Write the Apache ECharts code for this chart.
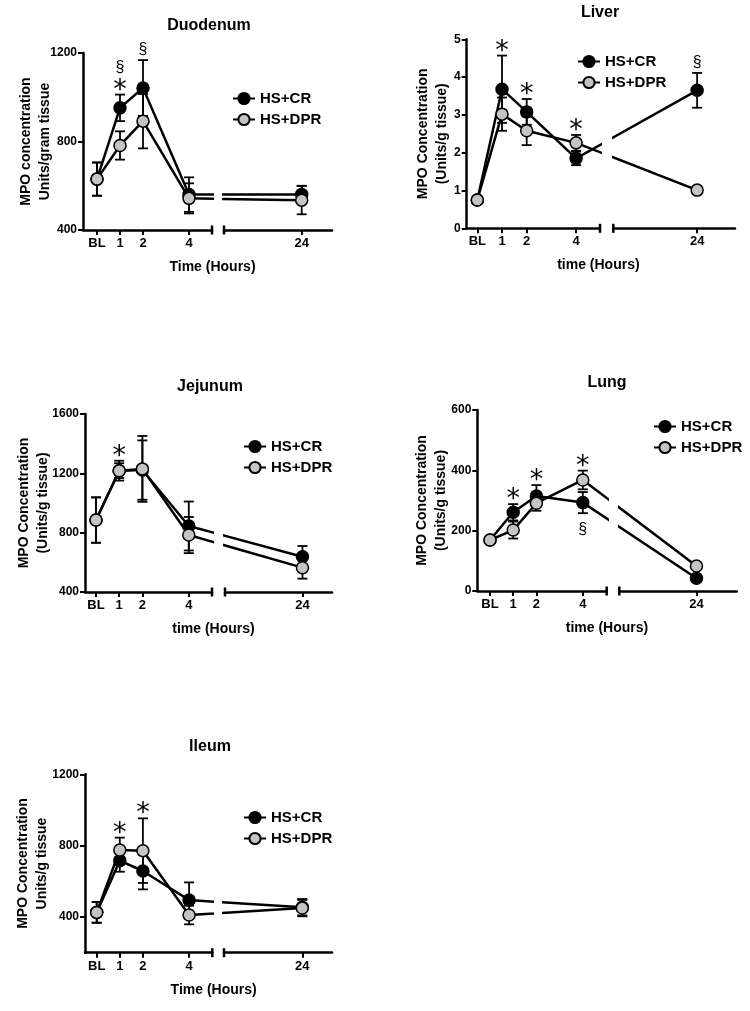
<!DOCTYPE html>
<html>
<head>
<meta charset="utf-8">
<script src="https://cdn.jsdelivr.net/npm/echarts@6/dist/echarts.min.js"></script>
<style>
  html, body { margin: 0; padding: 0; background: #fff; }
  #chart { width: 750px; height: 1011px; }
</style>
</head>
<body>
<div id="chart"></div>
<script>
// ---------------- DATA ----------------
const timeLabels = ['BL', '1', '2', '4', '24'];
const timePos = [0, 1, 2, 4, 8.9];          // axis position of each time point (broken axis)
const seriesNames = ['HS+CR', 'HS+DPR'];

// Duodenum
const duodenumCR = [630, 952, 1042, 560, 561];
const duodenumCRerr = [75, 60, 126, 78, 39];
const duodenumDPR = [630, 782, 892, 543, 535];
const duodenumDPRerr = [75, 64, 123, 68, 64];
const duodenumYTicks = [400, 800, 1200];
const duodenumNotes = [['1', 'CR', '*', 0], ['1', 'CR', '§', 1], ['2', 'CR', '§', 0]];

// Liver
const liverCR = [0.75, 3.68, 3.08, 1.85, 3.65];
const liverCRerr = [0.05, 0.89, 0.34, 0.18, 0.46];
const liverDPR = [0.75, 3.02, 2.58, 2.26, 1.01];
const liverDPRerr = [0.05, 0.44, 0.38, 0.21, 0.05];
const liverYTicks = [0, 1, 2, 3, 4, 5];
const liverNotes = [['1', 'CR', '*', 0], ['2', 'CR', '*', 0], ['4', 'DPR', '*', 0], ['24', 'CR', '§', 0]];

// Jejunum
const jejunumCR = [885, 1218, 1222, 845, 638];
const jejunumCRerr = [153, 67, 200, 165, 72];
const jejunumDPR = [885, 1218, 1230, 784, 564];
const jejunumDPRerr = [153, 50, 222, 122, 74];
const jejunumYTicks = [400, 800, 1200, 1600];
const jejunumNotes = [['1', 'CR', '*', 0]];

// Lung
const lungCR = [169, 261, 315, 293, 42];
const lungCRerr = [8, 27, 36, 35, 8];
const lungDPR = [169, 202, 291, 368, 83];
const lungDPRerr = [8, 28, 25, 31, 8];
const lungYTicks = [0, 200, 400, 600];
const lungNotes = [['1', 'CR', '*', 0], ['2', 'CR', '*', 0], ['4', 'DPR', '*', 0], ['4', 'CR', '§', -1]];

// Ileum
const ileumCR = [426, 716, 658, 495, 455];
const ileumCRerr = [58, 62, 103, 99, 46];
const ileumDPR = [426, 776, 772, 411, 450];
const ileumDPRerr = [58, 69, 181, 52, 46];
const ileumYTicks = [400, 800, 1200];
const ileumNotes = [['1', 'DPR', '*', 0], ['2', 'DPR', '*', 0]];

// ---------------- LAYOUT ----------------
const FONT = '"Liberation Sans", Arial, Helvetica, sans-serif';
const panels = [
  { title: 'Duodenum', yName: 'MPO concentration\nUnits/gram tissue', xName: 'Time (Hours)',
    cr: duodenumCR, crErr: duodenumCRerr, dpr: duodenumDPR, dprErr: duodenumDPRerr,
    yTicks: duodenumYTicks, yMin: 400, yMax: 1200, notes: duodenumNotes,
    L: { yAxisX: 83, top: 53, bottom: 230, bl: 97, k: 23, breakL: 212, breakR: 224, end: 332,
         titleX: 209, titleY: 27, legendX: 232, legendY: 91, yNameGap: 28 } },
  { title: 'Liver', yName: 'MPO Concentration\n(Units/g tissue)', xName: 'time (Hours)',
    cr: liverCR, crErr: liverCRerr, dpr: liverDPR, dprErr: liverDPRerr,
    yTicks: liverYTicks, yMin: 0, yMax: 5, notes: liverNotes,
    L: { yAxisX: 466.7, top: 39.3, bottom: 228.3, bl: 477.3, k: 24.7, breakL: 600, breakR: 613.3, end: 735,
         titleX: 600, titleY: 14, legendX: 577, legendY: 54, yNameGap: 15 } },
  { title: 'Jejunum', yName: 'MPO Concentration\n(Units/g tissue)', xName: 'time (Hours)',
    cr: jejunumCR, crErr: jejunumCRerr, dpr: jejunumDPR, dprErr: jejunumDPRerr,
    yTicks: jejunumYTicks, yMin: 400, yMax: 1600, notes: jejunumNotes,
    L: { yAxisX: 85, top: 414, bottom: 592, bl: 96, k: 23.2, breakL: 212, breakR: 225, end: 332,
         titleX: 210, titleY: 388, legendX: 243, legendY: 439, yNameGap: 32 } },
  { title: 'Lung', yName: 'MPO Concentration\n(Units/g tissue)', xName: 'time (Hours)',
    cr: lungCR, crErr: lungCRerr, dpr: lungDPR, dprErr: lungDPRerr,
    yTicks: lungYTicks, yMin: 0, yMax: 600, notes: lungNotes,
    L: { yAxisX: 477.3, top: 410, bottom: 591, bl: 490, k: 23.2, breakL: 606.7, breakR: 619.3, end: 736.7,
         titleX: 607, titleY: 384, legendX: 653, legendY: 419, yNameGap: 27 } },
  { title: 'Ileum', yName: 'MPO Concentration\nUnits/g tissue', xName: 'Time (Hours)',
    cr: ileumCR, crErr: ileumCRerr, dpr: ileumDPR, dprErr: ileumDPRerr,
    yTicks: ileumYTicks, yMin: 200, yMax: 1200, notes: ileumNotes,
    L: { yAxisX: 85, top: 774.3, bottom: 952.7, bl: 96.7, k: 23.1, breakL: 212.3, breakR: 224, end: 332,
         titleX: 210, titleY: 748, legendX: 243, legendY: 810, yNameGap: 33 } }
];

// ---------------- BUILD ----------------
const grid = [], xAxis = [], yAxis = [], series = [], legend = [], title = [];
const black = '#000';
const gray = '#c4c4c4';

function labelFor(v) {
  for (let i = 0; i < timePos.length; i++) if (Math.abs(timePos[i] - v) < 1e-6) return timeLabels[i];
  return '';
}

function errRender(params, api) {
  const x = api.value(0), m = api.value(1), s = api.value(2);
  const t = api.coord([x, m + s]);
  const b = api.coord([x, m - s]);
  const hw = 5;
  const st = { stroke: black, lineWidth: 1.8 };
  return { type: 'group', children: [
    { type: 'line', shape: { x1: t[0], y1: t[1], x2: b[0], y2: b[1] }, style: st },
    { type: 'line', shape: { x1: t[0] - hw, y1: t[1], x2: t[0] + hw, y2: t[1] }, style: st },
    { type: 'line', shape: { x1: b[0] - hw, y1: b[1], x2: b[0] + hw, y2: b[1] }, style: st }
  ]};
}

panels.forEach((P, pi) => {
  const L = P.L;
  const gL = pi * 2, gR = pi * 2 + 1;
  const h = L.bottom - L.top;
  const leftMin = (L.yAxisX - L.bl) / L.k, leftMax = (L.breakL - L.bl) / L.k;
  const rightMin = (L.breakR - L.bl) / L.k, rightMax = (L.end - L.bl) / L.k;

  grid.push({ left: L.yAxisX, top: L.top, width: L.breakL - L.yAxisX, height: h, containLabel: false, outerBoundsMode: 'none' });
  grid.push({ left: L.breakR, top: L.top, width: L.end - L.breakR, height: h, containLabel: false, outerBoundsMode: 'none' });

  const leftTicks = timePos.filter(v => v >= leftMin && v <= leftMax);
  const rightTicks = timePos.filter(v => v >= rightMin && v <= rightMax);
  const axisLineStyle = { color: black, width: 2.5 };
  const labelStyle = { color: black, fontWeight: 'bold', fontSize: 13, fontFamily: FONT, margin: 7 };

  xAxis.push({
    gridIndex: gL, type: 'value', min: leftMin, max: leftMax,
    axisLine: { show: true, onZero: false, lineStyle: axisLineStyle, symbol: ['none', 'rect'], symbolSize: [9, 2.5] },
    axisTick: { show: true, customValues: leftTicks, length: 5, lineStyle: { color: black, width: 2 } },
    axisLabel: Object.assign({ customValues: leftTicks, formatter: labelFor }, labelStyle),
    splitLine: { show: false },
    name: P.xName, nameLocation: 'middle', nameGap: 30, nameMoveOverlap: false,
    nameTextStyle: { color: black, fontWeight: 'bold', fontSize: 14, fontFamily: FONT, padding: [0, 0, 0, 130] }
  });
  xAxis.push({
    gridIndex: gR, type: 'value', min: rightMin, max: rightMax,
    axisLine: { show: true, onZero: false, lineStyle: axisLineStyle, symbol: ['rect', 'none'], symbolSize: [9, 2.5] },
    axisTick: { show: true, customValues: rightTicks, length: 5, lineStyle: { color: black, width: 2 } },
    axisLabel: Object.assign({ customValues: rightTicks, formatter: labelFor }, labelStyle),
    splitLine: { show: false }
  });
  yAxis.push({
    gridIndex: gL, type: 'value', min: P.yMin, max: P.yMax,
    axisLine: { show: true, onZero: false, lineStyle: axisLineStyle },
    axisTick: { show: true, customValues: P.yTicks, length: 5, lineStyle: { color: black, width: 2 } },
    axisLabel: { customValues: P.yTicks, formatter: v => String(v), color: black, fontWeight: 'bold', fontSize: 12, fontFamily: FONT, margin: 6 },
    splitLine: { show: false },
    name: P.yName, nameLocation: 'middle', nameGap: L.yNameGap, nameRotate: 90, nameMoveOverlap: false,
    nameTextStyle: { color: black, fontWeight: 'bold', fontSize: 14, lineHeight: 19, fontFamily: FONT, align: 'center' }
  });
  yAxis.push({ gridIndex: gR, type: 'value', min: P.yMin, max: P.yMax, show: false });

  const groups = [
    { name: seriesNames[0], vals: P.cr, err: P.crErr, fill: black },
    { name: seriesNames[1], vals: P.dpr, err: P.dprErr, fill: gray }
  ];
  [[gL, leftMin, leftMax], [gR, rightMin, rightMax]].forEach(([g, lo, hi]) => {
    groups.forEach(G => {
      const errData = [];
      timePos.forEach((x, i) => { if (x >= lo && x <= hi) errData.push([x, G.vals[i], G.err[i]]); });
      series.push({ type: 'custom', xAxisIndex: g, yAxisIndex: g, renderItem: errRender, data: errData,
        z: 2, silent: true, legendHoverLink: false });
    });
    groups.forEach(G => {
      series.push({
        type: 'line', name: G.name, xAxisIndex: g, yAxisIndex: g, clip: true,
        data: timePos.map((x, i) => [x, G.vals[i]]),
        symbol: 'circle', symbolSize: 12, showSymbol: true,
        lineStyle: { color: black, width: 2.5 },
        itemStyle: { color: G.fill, borderColor: black, borderWidth: 1.5 },
        z: 3, emphasis: { disabled: true }, silent: true
      });
    });
    // annotations
    const notesHere = P.notes.filter(n => { const x = timePos[timeLabels.indexOf(n[0])]; return x >= lo && x <= hi; });
    if (notesHere.length) {
      const nd = notesHere.map(n => {
        const i = timeLabels.indexOf(n[0]);
        const v = n[1] === 'CR' ? P.cr[i] : P.dpr[i];
        const e = n[1] === 'CR' ? P.crErr[i] : P.dprErr[i];
        return [timePos[i], n[3] >= 0 ? v + e : v - e, n[3]];
      });
      series.push({
        type: 'custom', xAxisIndex: g, yAxisIndex: g, data: nd, z: 5, silent: true,
        renderItem: (params, api) => {
          const pt = api.coord([api.value(0), api.value(1)]);
          const lvl = api.value(2);
          const txt = notesHere[params.dataIndex][2];
          const isStar = txt === '*';
          let y = lvl >= 0 ? pt[1] - 10 - 17 * lvl : pt[1] + 16;
          return { type: 'text', x: pt[0], y: y + (isStar ? 6 : 0), style: {
            text: txt, fill: black, align: 'center', verticalAlign: 'middle',
            font: isStar ? 'normal 27px "DejaVu Sans", sans-serif' : 'normal 16px ' + FONT
          }};
        }
      });
    }
  });

  legend.push({
    left: L.legendX, top: L.legendY, orient: 'vertical', padding: 0,
    itemWidth: 22, itemHeight: 14, itemGap: 6, selectedMode: false,
    data: seriesNames,
    textStyle: { color: black, fontWeight: 'bold', fontSize: 15, fontFamily: FONT }
  });
  title.push({
    text: P.title, left: L.titleX, top: L.titleY - 9, textAlign: 'center', padding: 0,
    textStyle: { color: black, fontWeight: 'bold', fontSize: 16, fontFamily: FONT }
  });
});

const chart = echarts.init(document.getElementById('chart'), null, { renderer: 'canvas' });
chart.setOption({
  animation: false,
  backgroundColor: '#fff',
  title, legend, grid, xAxis, yAxis, series,
  tooltip: { show: false }
});
</script>
</body>
</html>
